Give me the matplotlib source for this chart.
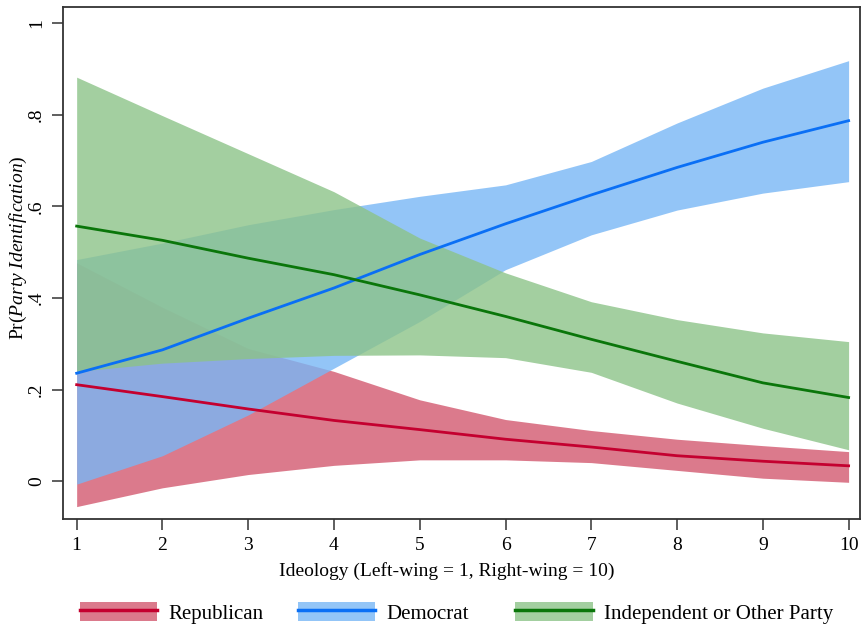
import numpy as np
import matplotlib
matplotlib.use('Agg')
import matplotlib.pyplot as plt
from matplotlib.patches import Patch
from matplotlib.lines import Line2D
from matplotlib.legend_handler import HandlerTuple

plt.rcParams['font.family'] = ['Liberation Serif', 'DejaVu Serif']
plt.rcParams['mathtext.fontset'] = 'custom'
plt.rcParams['mathtext.rm'] = 'Liberation Serif'
plt.rcParams['mathtext.it'] = 'Liberation Serif:italic'

ideology = [1, 2, 3, 4, 5, 6, 7, 8, 9, 10]

# Republican
rep = [0.211, 0.185, 0.158, 0.133, 0.113, 0.092, 0.075, 0.056, 0.044, 0.034]
rep_hi = [0.477, 0.380, 0.290, 0.240, 0.178, 0.135, 0.111, 0.092, 0.078, 0.065]
rep_lo = [-0.055, -0.014, 0.015, 0.035, 0.047, 0.047, 0.041, 0.024, 0.007, -0.002]

# Democrat
dem = [0.236, 0.287, 0.356, 0.422, 0.495, 0.562, 0.625, 0.685, 0.740, 0.787]
dem_hi = [0.484, 0.520, 0.560, 0.593, 0.622, 0.647, 0.698, 0.782, 0.858, 0.918]
dem_lo = [-0.006, 0.056, 0.145, 0.247, 0.349, 0.462, 0.538, 0.592, 0.629, 0.654]

# Independent or Other Party
ind = [0.557, 0.526, 0.487, 0.451, 0.407, 0.360, 0.310, 0.262, 0.215, 0.183]
ind_hi = [0.882, 0.798, 0.715, 0.632, 0.531, 0.455, 0.392, 0.353, 0.324, 0.305]
ind_lo = [0.240, 0.258, 0.268, 0.275, 0.276, 0.270, 0.238, 0.171, 0.116, 0.069]

labels = ['Republican', 'Democrat', 'Independent or Other Party']
line_cols = ['#c4002f', '#0a6ff5', '#0a760a']
band_cols = ['#d3596f', '#78b7f6', '#8cc388']
band_alpha = 0.8

fig = plt.figure(figsize=(8.62, 6.28), dpi=100)
ax = fig.add_axes([0.073, 0.1736, 0.925, 0.8152])

series = [(rep, rep_lo, rep_hi), (dem, dem_lo, dem_hi), (ind, ind_lo, ind_hi)]
for (m, lo, hi), bc in zip(series, band_cols):
    ax.fill_between(ideology, lo, hi, color=bc, alpha=band_alpha, linewidth=0)
for (m, lo, hi), lc in zip(series, line_cols):
    ax.plot(ideology, m, color=lc, linewidth=2.0)

ax.set_xlim(0.84, 10.136)
ax.set_ylim(-0.082, 1.035)
ax.set_xticks(ideology)
ax.set_yticks([0, 0.2, 0.4, 0.6, 0.8, 1.0])
ax.set_yticklabels(['0', '.2', '.4', '.6', '.8', '1'], rotation=90, va='center')
ax.tick_params(axis='both', labelsize=14, length=8, width=1.1, pad=5,
               direction='out', color='#333333')
for s in ax.spines.values():
    s.set_linewidth(1.3)
    s.set_color('#333333')

ax.set_xlabel('Ideology (Left-wing = 1, Right-wing = 10)', fontsize=14)
ax.xaxis.set_label_coords(0.482, -0.085)
ax.set_ylabel(r'Pr($\mathit{Party\ Identification}$)', fontsize=14)
ax.yaxis.set_label_coords(-0.042, 0.53)

# legend: three equally spaced keys, like Stata
key_left = [0.093, 0.346, 0.598]
for bc, lc, lab, xl in zip(band_cols, line_cols, labels, key_left):
    h = (Patch(facecolor=bc, alpha=band_alpha, edgecolor='none'),
         Line2D([], [], color=lc, linewidth=2.5))
    fig.legend([h], [lab], loc='center left', bbox_to_anchor=(xl, 0.024),
               frameon=False, fontsize=15, handlelength=3.7, handleheight=1.0,
               handletextpad=0.55, borderpad=0, borderaxespad=0,
               handler_map={tuple: HandlerTuple(ndivide=1, pad=0)})

fig.savefig('out.png', dpi=100)
